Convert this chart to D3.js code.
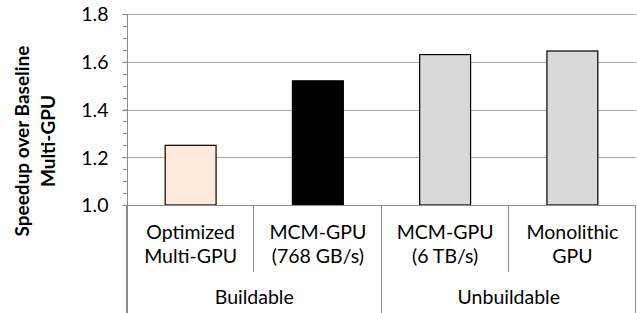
<!DOCTYPE html>
<html>
<head>
<meta charset="utf-8">
<script src="https://cdn.jsdelivr.net/npm/d3@7"></script>
<style>
  body { margin: 0; background: #fff; }
  text { font-family: Lato, "Open Sans", sans-serif; fill: #000; }
</style>
</head>
<body>
<div id="chart"></div>
<script>
var categories = ["Optimized\nMulti-GPU", "MCM-GPU\n(768 GB/s)", "MCM-GPU\n(6 TB/s)", "Monolithic\nGPU"];
var speedups = [1.25, 1.52, 1.63, 1.645];
var barColors = ["#fde9d9", "#000000", "#d9d9d9", "#d9d9d9"];
var groups = ["Buildable", "Unbuildable"];
var groupSizes = [2, 2];
var yTicks = [1.0, 1.2, 1.4, 1.6, 1.8];

var width = 637, height = 313;
var margin = {top: 14, right: 1, bottom: 108, left: 127};
var fontSize = "19.5px";

var svg = d3.select("#chart")
    .append("svg")
    .attr("width", width)
    .attr("height", height);

var x = d3.scaleBand()
    .domain(categories)
    .range([margin.left, width - margin.right])
    .paddingInner(0.6)
    .paddingOuter(0.3);

var y = d3.scaleLinear()
    .domain([1.0, 1.8])
    .range([height - margin.bottom, margin.top]);

var step = x.step();
var x0 = height - margin.bottom;

// gridlines
svg.append("g")
    .selectAll("line")
    .data(yTicks.slice(1))
    .enter().append("line")
    .attr("x1", margin.left - 5)
    .attr("x2", width - margin.right)
    .attr("y1", function(d) { return Math.round(y(d)) + 0.5; })
    .attr("y2", function(d) { return Math.round(y(d)) + 0.5; })
    .style("stroke", "#a6a6a6");

// minor ticks
var minor = d3.range(1.0, 1.8001, 0.05);
svg.append("g")
    .selectAll("line")
    .data(minor)
    .enter().append("line")
    .attr("x1", margin.left - 4)
    .attr("x2", margin.left)
    .attr("y1", function(d) { return Math.round(y(d)) + 0.5; })
    .attr("y2", function(d) { return Math.round(y(d)) + 0.5; })
    .style("stroke", "#8c8c8c");

// y axis
var yAxis = svg.append("g")
    .attr("transform", "translate(" + (margin.left + 0.5) + ",0)")
    .call(d3.axisLeft(y).tickValues(yTicks).tickSize(5).tickPadding(14)
        .tickFormat(d3.format(".1f")));
yAxis.select(".domain").style("stroke", "#8c8c8c").attr("d", "M0," + margin.top + "V" + height);
yAxis.selectAll(".tick line").style("stroke", "#8c8c8c");
yAxis.selectAll(".tick text")
    .style("font-family", "Lato, sans-serif")
    .style("font-size", fontSize)
    .attr("dy", "0.35em");

// bars
svg.append("g")
    .selectAll("rect")
    .data(categories)
    .enter().append("rect")
    .attr("x", function(d) { return x(d); })
    .attr("y", function(d, i) { return y(speedups[i]); })
    .attr("width", x.bandwidth())
    .attr("height", function(d, i) { return y(1.0) - y(speedups[i]); })
    .style("fill", function(d, i) { return barColors[i]; })
    .style("stroke", "#000")
    .style("stroke-width", 1.2);

// category axis line
svg.append("line")
    .attr("x1", margin.left).attr("x2", width - margin.right)
    .attr("y1", Math.round(x0) + 0.5).attr("y2", Math.round(x0) + 0.5)
    .style("stroke", "#8c8c8c");

// separators between categories and groups
var bounds = [];
var idx = 0;
groupSizes.forEach(function(n, g) {
    for (var k = 0; k <= n; k++) {
        var edge = x(categories[Math.min(idx + k, categories.length - 1)]) - (step - x.bandwidth()) / 2;
        if (idx + k >= categories.length) edge = width - margin.right;
        var full = (k === 0 || k === n);
        bounds.push({x: edge, full: full});
    }
    idx += n;
});
svg.append("g")
    .selectAll("line")
    .data(bounds)
    .enter().append("line")
    .attr("x1", function(d) { return Math.round(d.x) - 0.5; })
    .attr("x2", function(d) { return Math.round(d.x) - 0.5; })
    .attr("y1", x0)
    .attr("y2", function(d) { return d.full ? height : 272; })
    .style("stroke", "#8c8c8c");

// category labels
var catLabels = svg.append("g")
    .selectAll("text")
    .data(categories)
    .enter().append("text")
    .attr("x", function(d) { return x(d) + x.bandwidth() / 2; })
    .attr("y", 239)
    .attr("text-anchor", "middle")
    .style("font-size", fontSize);
catLabels.each(function(d) {
    var t = d3.select(this);
    d.split("\n").forEach(function(line, i) {
        t.append("tspan")
            .attr("x", x(d) + x.bandwidth() / 2)
            .attr("dy", i === 0 ? 0 : 24)
            .text(line);
    });
});

// group labels
var start = 0;
groups.forEach(function(g, i) {
    var left = x(categories[start]) - (step - x.bandwidth()) / 2;
    var right = left + step * groupSizes[i];
    svg.append("text")
        .attr("x", (left + right) / 2)
        .attr("y", 304)
        .attr("text-anchor", "middle")
        .style("font-size", fontSize)
        .text(g);
    start += groupSizes[i];
});

// y axis title
var yTitle = svg.append("text")
    .attr("transform", "translate(0,141) rotate(-90)")
    .attr("text-anchor", "middle")
    .style("font-size", "19px")
    .style("font-weight", "bold");
yTitle.append("tspan").attr("x", 0).attr("y", 29).text("Speedup over Baseline");
yTitle.append("tspan").attr("x", 0).attr("y", 55).text("Multi-GPU");
</script>
</body>
</html>
